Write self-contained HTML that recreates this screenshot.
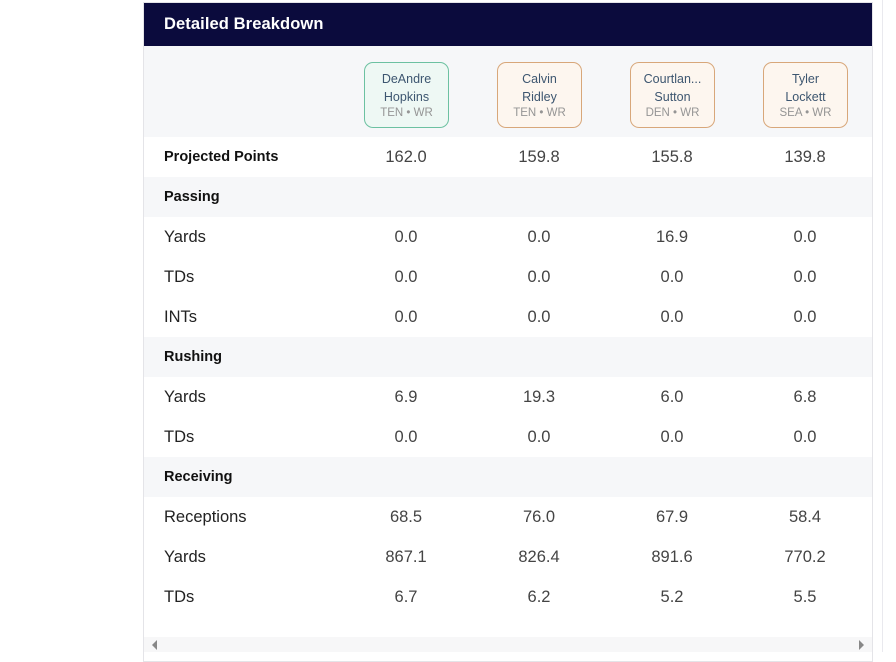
<!DOCTYPE html>
<html><head><meta charset="utf-8">
<style>
*{margin:0;padding:0;box-sizing:border-box}
html,body{width:896px;height:652px;background:#fff;overflow:hidden;font-family:"Liberation Sans",sans-serif}
.card{position:absolute;left:143px;top:2px;width:730px;height:660px;border:1px solid #e4e4e8;background:#fff}
.hdr{position:absolute;left:144px;top:3px;width:728px;height:43px;background:#0b0b3d;color:#fff;font-weight:bold;font-size:16.5px;line-height:43px;padding-left:20px;letter-spacing:0.1px}
.row{position:absolute;left:144px;width:728px;height:40px}
.g{background:#f6f7f9}
.lbl{position:absolute;left:164px;font-size:16.5px;color:#222;line-height:40px}
.sec{font-weight:bold;font-size:14.5px;color:#111}
.val{position:absolute;width:100px;text-align:center;font-size:16.5px;color:#444;line-height:40px}
.pc{position:absolute;top:62px;width:85px;height:66px;border-radius:9px;border:1px solid #d8a77a;background:#fdf6ef;text-align:center;color:#3d5670;font-size:12.5px}
.pc.gr{border-color:#6cc1a1;background:#eef8f4}
.pc .n{position:absolute;left:0;width:100%;line-height:16px}
.pc .t{position:absolute;left:0;width:100%;top:42px;font-size:11.5px;color:#959595;line-height:16px}
.vl{position:absolute;top:0;width:1px;height:652px;background:#e9e9ee}
.sb{position:absolute;left:144px;top:637px;width:728px;height:15px;background:#f7f7f8}
</style></head><body>
<div class="card"></div>
<div class="vl" style="left:882px"></div>
<div class="hdr">Detailed Breakdown</div>
<div class="row g" style="top:46px;height:91px"></div>

<div class="pc gr" style="left:364px"><div class="n" style="top:8px">DeAndre</div><div class="n" style="top:26px">Hopkins</div><div class="t">TEN • WR</div></div>
<div class="pc" style="left:497px"><div class="n" style="top:8px">Calvin</div><div class="n" style="top:26px">Ridley</div><div class="t">TEN • WR</div></div>
<div class="pc" style="left:630px"><div class="n" style="top:8px">Courtlan...</div><div class="n" style="top:26px">Sutton</div><div class="t">DEN • WR</div></div>
<div class="pc" style="left:763px"><div class="n" style="top:8px">Tyler</div><div class="n" style="top:26px">Lockett</div><div class="t">SEA • WR</div></div>

<div class="row g" style="top:177px"></div>
<div class="row g" style="top:337px"></div>
<div class="row g" style="top:457px"></div>

<div class="lbl sec" style="top:137px;font-size:14.5px">Projected Points</div>
<div class="lbl sec" style="top:177px">Passing</div>
<div class="lbl" style="top:217px">Yards</div>
<div class="lbl" style="top:257px">TDs</div>
<div class="lbl" style="top:297px">INTs</div>
<div class="lbl sec" style="top:337px">Rushing</div>
<div class="lbl" style="top:377px">Yards</div>
<div class="lbl" style="top:417px">TDs</div>
<div class="lbl sec" style="top:457px">Receiving</div>
<div class="lbl" style="top:497px">Receptions</div>
<div class="lbl" style="top:537px">Yards</div>
<div class="lbl" style="top:577px">TDs</div>

<!-- col 1 center 406 -->
<div class="val" style="left:356px;top:137px">162.0</div>
<div class="val" style="left:356px;top:217px">0.0</div>
<div class="val" style="left:356px;top:257px">0.0</div>
<div class="val" style="left:356px;top:297px">0.0</div>
<div class="val" style="left:356px;top:377px">6.9</div>
<div class="val" style="left:356px;top:417px">0.0</div>
<div class="val" style="left:356px;top:497px">68.5</div>
<div class="val" style="left:356px;top:537px">867.1</div>
<div class="val" style="left:356px;top:577px">6.7</div>
<!-- col 2 center 539 -->
<div class="val" style="left:489px;top:137px">159.8</div>
<div class="val" style="left:489px;top:217px">0.0</div>
<div class="val" style="left:489px;top:257px">0.0</div>
<div class="val" style="left:489px;top:297px">0.0</div>
<div class="val" style="left:489px;top:377px">19.3</div>
<div class="val" style="left:489px;top:417px">0.0</div>
<div class="val" style="left:489px;top:497px">76.0</div>
<div class="val" style="left:489px;top:537px">826.4</div>
<div class="val" style="left:489px;top:577px">6.2</div>
<!-- col 3 center 672 -->
<div class="val" style="left:622px;top:137px">155.8</div>
<div class="val" style="left:622px;top:217px">16.9</div>
<div class="val" style="left:622px;top:257px">0.0</div>
<div class="val" style="left:622px;top:297px">0.0</div>
<div class="val" style="left:622px;top:377px">6.0</div>
<div class="val" style="left:622px;top:417px">0.0</div>
<div class="val" style="left:622px;top:497px">67.9</div>
<div class="val" style="left:622px;top:537px">891.6</div>
<div class="val" style="left:622px;top:577px">5.2</div>
<!-- col 4 center 805 -->
<div class="val" style="left:755px;top:137px">139.8</div>
<div class="val" style="left:755px;top:217px">0.0</div>
<div class="val" style="left:755px;top:257px">0.0</div>
<div class="val" style="left:755px;top:297px">0.0</div>
<div class="val" style="left:755px;top:377px">6.8</div>
<div class="val" style="left:755px;top:417px">0.0</div>
<div class="val" style="left:755px;top:497px">58.4</div>
<div class="val" style="left:755px;top:537px">770.2</div>
<div class="val" style="left:755px;top:577px">5.5</div>

<div class="sb"></div>
<svg style="position:absolute;left:150px;top:639px" width="10" height="12"><polygon points="7,1 7,11 2,6" fill="#888"/></svg>
<svg style="position:absolute;left:856px;top:639px" width="10" height="12"><polygon points="3,1 3,11 8,6" fill="#888"/></svg>
</body></html>
